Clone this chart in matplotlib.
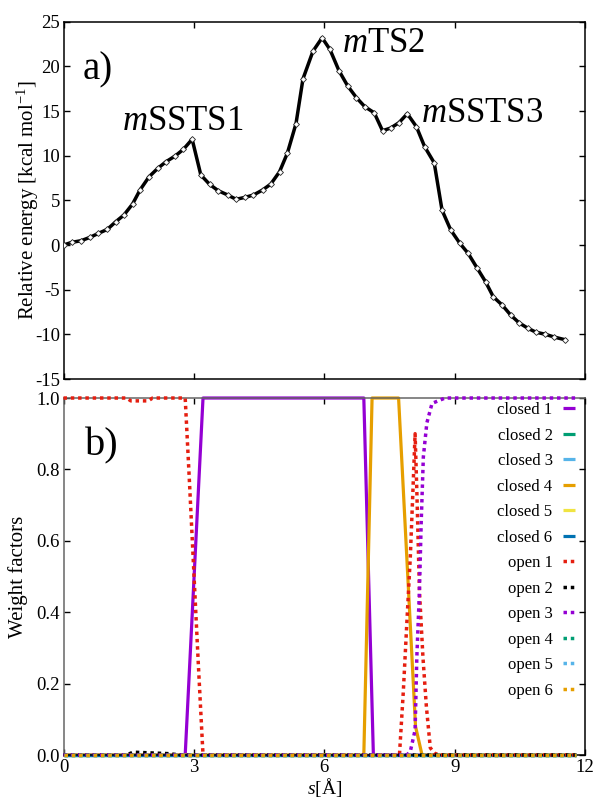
import matplotlib
matplotlib.use("Agg")
import matplotlib.pyplot as plt

plt.rcParams['font.family'] = ['Liberation Serif', 'DejaVu Serif']
plt.rcParams['mathtext.fontset'] = 'custom'
plt.rcParams['mathtext.rm'] = 'Liberation Serif'
plt.rcParams['mathtext.it'] = 'Liberation Serif:italic'
plt.rcParams['axes.unicode_minus'] = False

# ---------------- data: energy profile ----------------
s_energy = [0, 0.19, 0.40, 0.61, 0.80, 1.01, 1.20, 1.39, 1.59, 1.76, 1.97, 2.17, 2.36,
            2.57, 2.76, 2.96, 3.16, 3.36, 3.56, 3.78, 3.97, 4.18, 4.37, 4.58, 4.77, 4.97,
            5.15, 5.35, 5.51, 5.74, 5.95, 6.13, 6.34, 6.54, 6.74, 6.93, 7.15, 7.34, 7.53,
            7.72, 7.91, 8.12, 8.31, 8.53, 8.71, 8.91, 9.12, 9.31, 9.52, 9.71, 9.89, 10.09,
            10.29, 10.48, 10.68, 10.87, 11.08, 11.29, 11.54]
energy = [0, 0.3, 0.48, 0.86, 1.3, 1.76, 2.6, 3.36, 4.6, 6.16, 7.65, 8.59, 9.33,
          9.97, 10.72, 11.84, 7.84, 6.8, 6.08, 5.6, 5.12, 5.34, 5.6, 6.16, 6.83, 8.2,
          10.27, 13.6, 18.6, 21.7, 23.2, 21.9, 19.5, 17.8, 16.5, 15.5, 14.8, 12.8, 13.1,
          13.7, 14.7, 13.25, 11.0, 9.2, 3.9, 1.68, 0.19, -0.93, -2.6, -4.1, -5.8, -6.7,
          -7.84, -8.7, -9.3, -9.76, -9.98, -10.3, -10.6]

ts_labels = ["$m$SSTS1", "$m$TS2", "$m$SSTS3"]
ts_label_pos = [(1.35, 12.9), (6.40, 21.65), (8.23, 13.8)]

# ---------------- data: weight factors ----------------
closed1_s = [0, 2.80, 3.21, 6.91, 7.13, 11.8]
closed1_w = [0, 0, 1, 1, 0, 0]
closed2_s = [0, 11.8]
closed2_w = [0, 0]
closed3_s = [0, 11.8]
closed3_w = [0, 0]
closed4_s = [0, 6.91, 7.10, 7.71, 8.10, 8.25, 11.8]
closed4_w = [0, 0, 1, 1, 0.08, 0, 0]
closed5_s = [0, 11.8]
closed5_w = [0, 0]
closed6_s = [0, 11.8]
closed6_w = [0, 0]

open1_s = [0, 1.45, 1.55, 1.95, 2.05, 2.80, 2.90, 3.00, 3.10, 3.21, 7.73, 7.82, 7.90,
           7.98, 8.04, 8.09, 8.13, 8.19, 8.27, 8.35, 8.44, 8.54, 8.65, 11.8]
open1_w = [1, 1, 0.992, 0.992, 1, 1, 0.76, 0.51, 0.26, 0, 0, 0.18, 0.37,
           0.555, 0.74, 0.90, 0.74, 0.46, 0.275, 0.135, 0.02, 0.005, 0, 0]
open2_s = [0, 1.45, 1.60, 2.00, 2.40, 2.70, 11.8]
open2_w = [0, 0, 0.008, 0.006, 0.004, 0, 0]
open3_s = [0, 7.90, 7.98, 8.09, 8.13, 8.19, 8.23, 8.28, 8.36, 8.48, 8.78, 11.8]
open3_w = [0, 0, 0.01, 0.07, 0.275, 0.46, 0.65, 0.835, 0.93, 0.985, 1, 1]
open4_s = [0, 11.8]
open4_w = [0, 0]
open5_s = [0, 11.8]
open5_w = [0, 0]
open6_s = [0, 11.8]
open6_w = [0, 0]

state_labels = ["closed 1", "closed 2", "closed 3", "closed 4", "closed 5", "closed 6",
                "open 1", "open 2", "open 3", "open 4", "open 5", "open 6"]
state_colors = ["#9400D3", "#009E73", "#56B4E9", "#E69F00", "#F0E442", "#0072B2",
                "#E51E10", "#000000", "#9400D3", "#009E73", "#56B4E9", "#E69F00"]
state_s = [closed1_s, closed2_s, closed3_s, closed4_s, closed5_s, closed6_s,
           open1_s, open2_s, open3_s, open4_s, open5_s, open6_s]
state_w = [closed1_w, closed2_w, closed3_w, closed4_w, closed5_w, closed6_w,
           open1_w, open2_w, open3_w, open4_w, open5_w, open6_w]

x_ticks = [0, 3, 6, 9, 12]
e_ticks = [-15, -10, -5, 0, 5, 10, 15, 20, 25]
w_ticks = [0.0, 0.2, 0.4, 0.6, 0.8, 1.0]

# ---------------- figure ----------------
fig = plt.figure(figsize=(5.98, 8.01), dpi=100)
ax1 = fig.add_axes([0.1062, 0.5268, 0.8721, 0.4461])
ax2 = fig.add_axes([0.1062, 0.0574, 0.8721, 0.4457])

tick_fs = 13.5
for ax in (ax1, ax2):
    ax.tick_params(direction='in', top=True, right=True, length=4.5, width=1.0,
                   labelsize=tick_fs)
    ax.tick_params(axis='y', pad=2.5)
    ax.tick_params(axis='x', pad=3)
    for sp in ax.spines.values():
        sp.set_linewidth(1.1)

# top panel
ax1.plot(s_energy, energy, color='black', lw=2.5, marker='D', ms=3.0,
         mfc='white', mec='#222222', mew=0.6, zorder=3)
ax1.set_xlim(0, 12)
ax1.set_ylim(-15, 25)
ax1.set_xticks(x_ticks)
ax1.set_xticklabels([])
ax1.set_yticks(e_ticks)
ax1.set_yticklabels([str(t) for t in e_ticks])
for lab, (xp, yp) in zip(ts_labels, ts_label_pos):
    ax1.text(xp, yp, lab, fontsize=25, ha='left', va='baseline')
ax1.text(0.45, 18.5, "a)", fontsize=28, ha='left', va='baseline')

# bottom panel
for i, (lab, col, xs, ws) in enumerate(zip(state_labels, state_colors, state_s, state_w)):
    if i < 6:
        ax2.plot(xs, ws, color=col, lw=2.3, ls='-', label=lab, clip_on=False,
                 solid_capstyle='butt', zorder=2)
    else:
        ax2.plot(xs, ws, color=col, lw=2.5, ls=(0, (1, 1.1)), label=lab, clip_on=False,
                 dash_capstyle='butt', zorder=3)
ax2.set_xlim(0, 12)
ax2.set_ylim(0, 1)
ax2.set_xticks(x_ticks)
ax2.set_xticklabels([str(t) for t in x_ticks])
ax2.set_yticks(w_ticks)
ax2.set_yticklabels(["%.1f" % t for t in w_ticks])
ax2.spines['left'].set_color('#666666')
ax2.spines['top'].set_color('#666666')
ax2.text(0.5, 0.84, "b)", fontsize=29, ha='left', va='baseline')
ax2.set_xlabel("$s$[Å]", fontsize=14, labelpad=0)

leg = ax2.legend(loc='upper right', bbox_to_anchor=(0.981, 0.988), frameon=False,
                 markerfirst=False, fontsize=12, handlelength=0.75, handletextpad=0.6,
                 labelspacing=0.57, borderpad=0, borderaxespad=0)

fig.text(28 / 598, 1 - 200 / 801, "Relative energy [kcal mol$^{-1}$]", rotation=90,
         ha='center', va='center', fontsize=15)
fig.text(18.5 / 598, 1 - 577 / 801, "Weight factors", rotation=90,
         ha='center', va='center', fontsize=15)

fig.savefig("out.png", dpi=100)
